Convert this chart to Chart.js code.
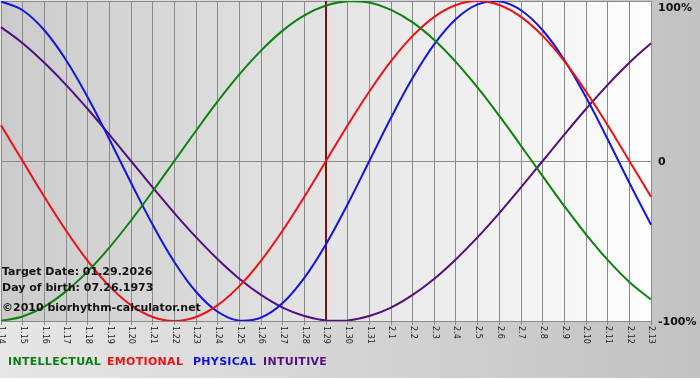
<!DOCTYPE html>
<html>
<head>
<meta charset="utf-8">
<script src="https://cdn.jsdelivr.net/npm/chart.js@4.4.0/dist/chart.umd.min.js"></script>
<style>
  html, body { margin: 0; padding: 0; background: #ffffff; }
  #wrap { position: relative; width: 700px; height: 380px; overflow: hidden; }
  canvas { position: absolute; left: 0; top: 0; }
  .note { position: absolute; font: bold 11px "DejaVu Sans", Verdana, sans-serif; color: #111; white-space: nowrap; line-height: 14px; }
  .lg { position: absolute; top: 355px; font: bold 11px "DejaVu Sans", Verdana, sans-serif; white-space: nowrap; line-height: 14px; letter-spacing: 0.3px; }
</style>
</head>
<body>
<div id="wrap">
  <canvas id="c" width="700" height="380"></canvas>
  <div class="note" style="left:2px; top:265px;">Target Date: 01.29.2026</div>
  <div class="note" style="left:2px; top:281px;">Day of birth: 07.26.1973</div>
  <div class="note" style="left:2px; top:301px;">©2010 biorhythm-calculator.net</div>
  <div class="lg" style="left:8px; color:#0b7d0b">INTELLECTUAL</div>
  <div class="lg" style="left:107px; color:#ee1111">EMOTIONAL</div>
  <div class="lg" style="left:193px; color:#1111dd">PHYSICAL</div>
  <div class="lg" style="left:263px; color:#55107f">INTUITIVE</div>
</div>
<script>
const labels = ['1.14','1.15','1.16','1.17','1.18','1.19','1.20','1.21','1.22','1.23','1.24','1.25','1.26','1.27','1.28','1.29','1.30','1.31','2.1','2.2','2.3','2.4','2.5','2.6','2.7','2.8','2.9','2.10','2.11','2.12','2.13'];
const intellectual = [-99.9,-97.2,-91.0,-81.5,-69.0,-54.1,-37.2,-18.9,0,18.9,37.2,54.1,69.0,81.5,91.0,97.2,99.9,99.0,94.5,86.6,75.6,61.8,45.8,28.2,9.5,-9.5,-28.2,-45.8,-61.8,-75.6,-86.6];
const emotional = [22.3,0,-22.3,-43.4,-62.4,-78.2,-90.1,-97.5,-100,-97.5,-90.1,-78.2,-62.4,-43.4,-22.3,0,22.3,43.4,62.4,78.2,90.1,97.5,100,97.5,90.1,78.2,62.4,43.4,22.3,0,-22.3];
const physical = [99.8,94.2,81.7,63.1,39.8,13.6,-13.6,-39.8,-63.1,-81.7,-94.2,-99.8,-97.9,-88.8,-73.1,-52.0,-27.0,0,27.0,52.0,73.1,88.8,97.9,99.8,94.2,81.7,63.1,39.8,13.6,-13.6,-39.8];
const intuitive = [83.7,73.6,61.4,47.6,32.5,16.5,0,-16.5,-32.5,-47.6,-61.4,-73.6,-83.7,-91.6,-96.9,-99.7,-99.7,-96.9,-91.6,-83.7,-73.6,-61.4,-47.6,-32.5,-16.5,0,16.5,32.5,47.6,61.4,73.6];
const yTicks = [100, 0, -100];
const yTickLabels = ['100%', '0', '-100%'];
const targetLabel = '1.29';

const bgPlugin = {
  id: 'bg',
  beforeDraw(chart) {
    const {ctx, chartArea: a, width, height} = chart;
    ctx.save();
    const g = ctx.createLinearGradient(0, 0, width, 0);
    g.addColorStop(0, '#e6e6e6');
    g.addColorStop(1, '#c2c2c2');
    ctx.fillStyle = g;
    ctx.fillRect(0, 0, width, height - 2);
    const pg = ctx.createLinearGradient(a.left, 0, a.right, 0);
    pg.addColorStop(0, '#cbcbcb');
    pg.addColorStop(1, '#fdfdfd');
    ctx.fillStyle = pg;
    ctx.fillRect(a.left, a.top, a.right - a.left, a.bottom - a.top);
    ctx.restore();
  },
  beforeDatasetsDraw(chart) {
    const {ctx, chartArea: a} = chart;
    const x = chart.scales.x.getPixelForValue(labels.indexOf(targetLabel));
    ctx.save();
    ctx.strokeStyle = '#7a1212';
    ctx.lineWidth = 2;
    ctx.beginPath();
    ctx.moveTo(x, a.top);
    ctx.lineTo(x, a.bottom);
    ctx.stroke();
    ctx.restore();
  },
  afterDraw(chart) {
    const {ctx, chartArea: a} = chart;
    const xs = chart.scales.x, ys = chart.scales.y;
    ctx.save();
    ctx.fillStyle = '#222';
    ctx.font = '8px "DejaVu Sans", Verdana, sans-serif';
    ctx.textAlign = 'left';
    ctx.textBaseline = 'middle';
    labels.forEach((l, i) => {
      const x = xs.getPixelForValue(i);
      ctx.save();
      ctx.translate(x + 0.5, a.bottom + 5);
      ctx.rotate(Math.PI / 2);
      ctx.fillText(l, 0, 0);
      ctx.restore();
    });
    ctx.fillStyle = '#111';
    ctx.font = 'bold 11px "DejaVu Sans", Verdana, sans-serif';
    yTicks.forEach((v, i) => {
      let y = ys.getPixelForValue(v);
      if (i === 0) y += 6;
      ctx.fillText(yTickLabels[i], a.right + 7, y + 1);
    });
    ctx.restore();
  }
};

function ds(label, data, color) {
  return { label, data, borderColor: color, borderWidth: 2, pointRadius: 0, tension: 0.4, fill: false };
}

new Chart(document.getElementById('c'), {
  type: 'line',
  data: {
    labels,
    datasets: [
      ds('INTELLECTUAL', intellectual, '#0d820d'),
      ds('EMOTIONAL', emotional, '#ee1111'),
      ds('PHYSICAL', physical, '#1414e0'),
      ds('INTUITIVE', intuitive, '#52107f')
    ]
  },
  options: {
    responsive: false,
    animation: false,
    layout: { padding: { left: 1, top: 1, right: 49, bottom: 55 } },
    plugins: { legend: { display: false }, tooltip: { enabled: false } },
    scales: {
      x: {
        offset: false,
        ticks: { display: false },
        grid: { color: '#8a8a8a', lineWidth: 1, drawTicks: true, tickLength: 4 },
        border: { display: true, color: '#8a8a8a' }
      },
      y: {
        position: 'right',
        min: -100, max: 100,
        ticks: { display: false, stepSize: 100 },
        grid: { color: '#8a8a8a', lineWidth: 1, drawTicks: false },
        border: { display: true, color: '#8a8a8a' }
      }
    }
  },
  plugins: [bgPlugin]
});
</script>
</body>
</html>
